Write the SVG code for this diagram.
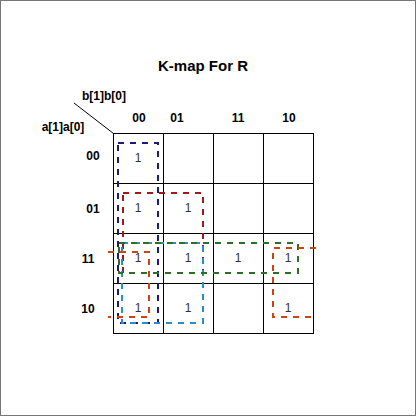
<svg xmlns="http://www.w3.org/2000/svg" width="416" height="416" viewBox="0 0 416 416">
<style>
.t{font-family:"Liberation Sans",Arial,sans-serif;font-weight:bold;fill:#000;text-anchor:middle}
.v{font-family:"Liberation Sans",Arial,sans-serif;font-size:12px;fill:#333;text-anchor:middle}
.g{fill:none;stroke:#000;stroke-width:1}
.d{fill:none;stroke-width:2;stroke-dasharray:6 6}
</style>
<rect x="0.5" y="0.5" width="415" height="415" fill="#fff" stroke="#777" stroke-width="1"/>
<g id="title"><text class="t" x="203" y="71" font-size="15">K-map For R</text></g>
<g id="labels">
<text class="t" x="104" y="100" font-size="12">b[1]b[0]</text>
<text class="t" x="63" y="131" font-size="12">a[1]a[0]</text>
<text class="t" x="139" y="122" font-size="12">00</text>
<text class="t" x="177" y="122" font-size="12">01</text>
<text class="t" x="238" y="122" font-size="12">11</text>
<text class="t" x="289" y="122" font-size="12">10</text>
<text class="t" x="93" y="160" font-size="12">00</text>
<text class="t" x="93" y="213" font-size="12">01</text>
<text class="t" x="88" y="263" font-size="12">11</text>
<text class="t" x="88" y="313" font-size="12">10</text>
</g>
<g id="grid">
<line x1="74" y1="103" x2="113.5" y2="133.5" stroke="#000" stroke-width="1"/>
<rect class="g" x="113.5" y="133.5" width="200" height="200"/>
<path class="g" d="M163.5 133.5V333.5M213.5 133.5V333.5M263.5 133.5V333.5M113.5 183.5H313.5M113.5 233.5H313.5M113.5 283.5H313.5"/>
</g>
<g id="cells">
<text class="v" x="138" y="162">1</text>
<text class="v" x="138" y="212">1</text>
<text class="v" x="188" y="212">1</text>
<text class="v" x="138" y="262">1</text>
<text class="v" x="188" y="262">1</text>
<text class="v" x="238" y="262">1</text>
<text class="v" x="288" y="262">1</text>
<text class="v" x="138" y="312">1</text>
<text class="v" x="188" y="312">1</text>
<text class="v" x="288" y="312">1</text>
</g>
<g id="groups">
<rect class="d" x="118" y="143" width="40" height="180" stroke="#1a1a7a"/>
<rect class="d" x="123" y="193" width="80" height="80" stroke="#9e1a1a"/>
<rect class="d" x="122" y="243" width="81" height="80" stroke="#2b8ccb"/>
<rect class="d" x="119" y="243" width="179" height="30" stroke="#2a6e2a"/>
<path class="d" d="M108 252H149V317H108" stroke="#cc4411"/>
<path class="d" d="M316 248H273V317H316" stroke="#cc4411"/>
</g>
</svg>
